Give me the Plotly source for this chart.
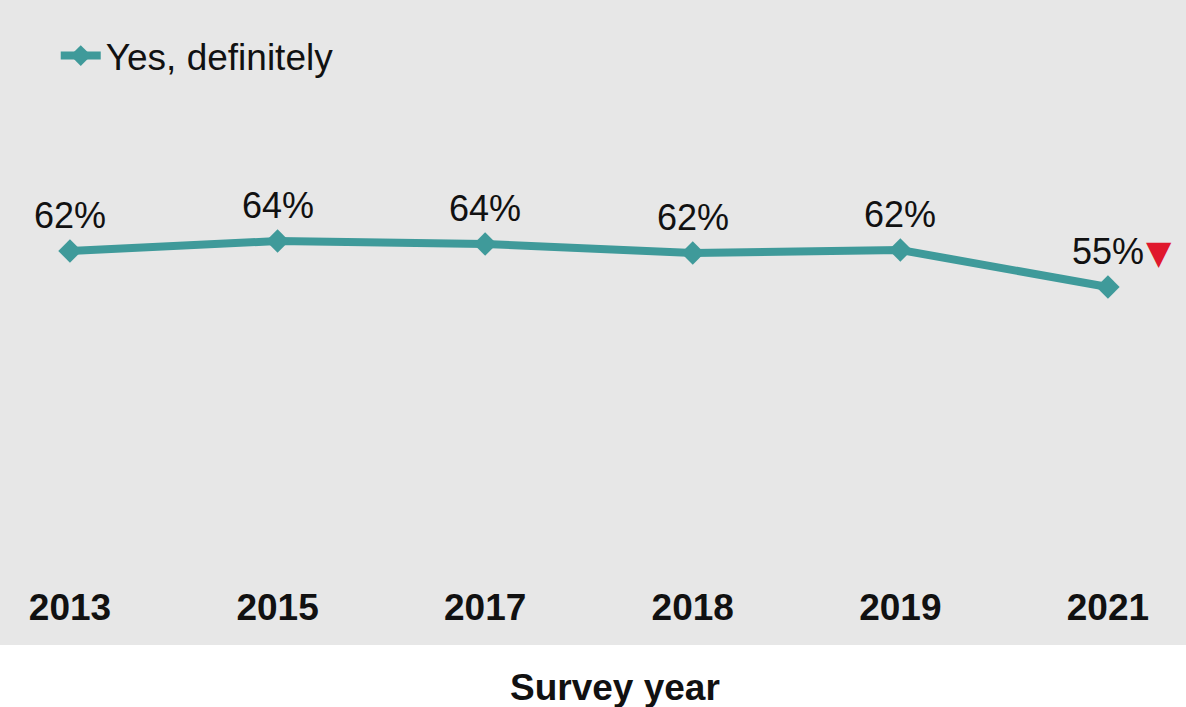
import plotly.graph_objects as go

years = ["2013", "2015", "2017", "2018", "2019", "2021"]
values = [62.2, 64.2, 63.6, 61.8, 62.4, 55.0]
labels = ["62%", "64%", "64%", "62%", "62%", "55%"]
series_name = "Yes, definitely"
axis_title = "Survey year"
sig_down = [False, False, False, False, False, True]

TEAL = "#3f9a9a"
GRAY = "#e7e7e7"
FONT = "Arial, Liberation Sans, sans-serif"

W, H = 1186, 707
T, B = 62, 125
plot_h = H - T - B

fig = go.Figure()
fig.add_trace(go.Scatter(
    x=years, y=values, mode="lines+markers", name=series_name,
    line=dict(color=TEAL, width=8),
    marker=dict(symbol="diamond", size=18, color=TEAL),
    hoverinfo="skip",
))

annotations = []
for i, (v, lab, sd) in enumerate(zip(values, labels, sig_down)):
    annotations.append(dict(
        x=i, y=v, xref="x", yref="y", text=lab, showarrow=False,
        yshift=36, yanchor="middle", xanchor="center",
        font=dict(family=FONT, size=36, color="#111111"),
    ))
    if sd:
        annotations.append(dict(
            x=i, y=v, xref="x", yref="y", text="▼", showarrow=False,
            yshift=35, xshift=51, yanchor="middle", xanchor="center",
            font=dict(family="DejaVu Sans", size=33, color="#e0182d"),
        ))

annotations.append(dict(
    x=615 / W, y=(H - B - 687) / plot_h, xref="paper", yref="paper",
    text="<b>" + axis_title + "</b>", showarrow=False,
    xanchor="center", yanchor="middle",
    font=dict(family=FONT, size=37, color="#111111"),
))

fig.update_layout(
    width=W, height=H,
    margin=dict(l=0, r=0, t=T, b=B, pad=0),
    paper_bgcolor="white", plot_bgcolor="rgba(0,0,0,0)",
    font=dict(family=FONT, color="#111111"),
    showlegend=True,
    legend=dict(x=0.047, y=(H - B - 56) / plot_h, xanchor="left", yanchor="middle",
                font=dict(family=FONT, size=37, color="#111111"),
                bgcolor="rgba(0,0,0,0)", itemwidth=40),
    annotations=annotations,
    shapes=[dict(type="rect", xref="paper", yref="paper", x0=0, x1=1,
                 y0=(H - B - 645) / plot_h, y1=1.3, fillcolor=GRAY,
                 line=dict(width=0), layer="below")],
    xaxis=dict(type="category", range=[-0.337, 5.376], showgrid=False, zeroline=False,
               showline=False, ticks="",
               tickfont=dict(family=FONT, size=37, color="#111111", weight="bold")),
    yaxis=dict(range=[-4, 100], showgrid=False, zeroline=False, showline=False,
               showticklabels=False, ticks=""),
)

fig.write_html("out.html")
